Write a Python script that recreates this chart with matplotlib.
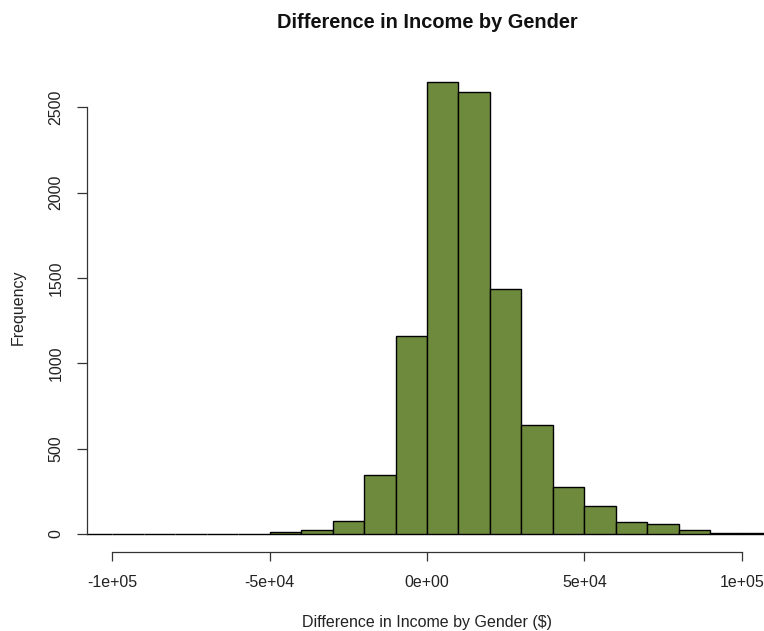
import matplotlib.pyplot as plt
import numpy as np

# histogram bins ($10k wide) and counts per bin
bin_edges = np.arange(-120000, 120001, 10000)
counts = [0, 0, 0, 0, 0, 0, 0,
          10, 24, 78, 345, 1159,
          2651, 2590, 1438, 641, 277,
          163, 72, 56, 22, 8, 8, 0]

yticks = [0, 500, 1000, 1500, 2000, 2500]
xticks = [-100000, -50000, 0, 50000, 100000]
xticklabels = ["-1e+05", "-5e+04", "0e+00", "5e+04", "1e+05"]

plt.rcParams['font.family'] = ['Liberation Sans', 'DejaVu Sans']

fig = plt.figure(figsize=(7.64, 6.31), dpi=100)
ax = fig.add_axes([0.1139, 0.1252, 0.890, 0.7742])

ax.bar(bin_edges[:-1], counts, width=10000, align='edge',
       color='#6E8B3D', edgecolor='black', linewidth=1.0,
       joinstyle='bevel')

# R-style axis extents: 4% padding around the data range
ax.set_xlim(-108000, 108000)
ymax = max(counts)
ax.set_ylim(-0.04 * ymax, ymax * 1.04)

for s in ['top', 'right']:
    ax.spines[s].set_visible(False)
ax.spines['left'].set_bounds(0, 2500)
ax.spines['bottom'].set_bounds(-100000, 100000)
for s in ['left', 'bottom']:
    ax.spines[s].set_color('#333333')
    ax.spines[s].set_linewidth(0.9)

ax.set_yticks(yticks)
ax.set_yticklabels([str(v) for v in yticks], rotation=90, va='center')
ax.set_xticks(xticks)
ax.set_xticklabels(xticklabels)
ax.tick_params(axis='y', length=7, width=0.9, color='#333333', pad=10,
               labelsize=11.5, labelcolor='#222222')
ax.tick_params(axis='x', length=6.5, width=0.9, color='#333333', pad=10,
               labelsize=11.5, labelcolor='#222222')

fig.text(427 / 764, 1 - 22 / 631, "Difference in Income by Gender",
         ha='center', va='center', fontsize=14.4, fontweight='bold',
         color='#111111')
fig.text(427 / 764, 1 - 622 / 631, "Difference in Income by Gender ($)",
         ha='center', va='center', fontsize=11.5, color='#222222')
fig.text(18 / 764, 1 - 307 / 631, "Frequency", rotation=90,
         ha='center', va='center', fontsize=11.5, color='#222222')

fig.savefig("out.png", dpi=100)
